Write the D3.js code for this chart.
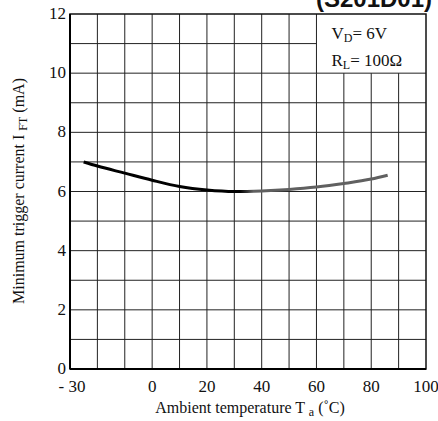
<!DOCTYPE html>
<html>
<head>
<meta charset="utf-8">
<script src="https://cdn.jsdelivr.net/npm/d3@7"></script>
<style>
  body { margin: 0; background: #fff; }
  svg { display: block; }
  text { font-family: "Times New Roman", "Liberation Serif", Tinos, serif; fill: #111; }
</style>
</head>
<body>
<div id="chart"></div>
<script>
// curve
let temps = [-25, -20, -10, 0, 10, 20, 30, 40, 50, 60, 70, 80, 86];
let ift = [7.0, 6.86, 6.62, 6.38, 6.17, 6.05, 6.0, 6.02, 6.07, 6.15, 6.27, 6.42, 6.55];

let xTicks = [-30, 0, 20, 40, 60, 80, 100];
let xTickLabels = ['- 30', '0', '20', '40', '60', '80', '100'];
let yTicks = [0, 2, 4, 6, 8, 10, 12];

let title = '(S201D01)';
let xTitle = 'Ambient temperature T';
let yTitle = 'Minimum trigger current I';

var W = 438, H = 421;
var m = { left: 70, right: 12, top: 14, bottom: 52 };

var svg = d3.select('#chart').append('svg').attr('width', W).attr('height', H);

var x = d3.scaleLinear().domain([-30, 100]).range([m.left, W - m.right]);
var y = d3.scaleLinear().domain([0, 12]).range([H - m.bottom, m.top]);

// grid
var grid = svg.append('g').attr('class', 'grid');
grid.selectAll('line.v').data(d3.range(-20, 100, 10)).enter().append('line')
    .attr('x1', d => x(d)).attr('x2', d => x(d))
    .attr('y1', y(0)).attr('y2', d => d >= 60 ? y(10) : y(12))
    .attr('stroke', '#222').attr('stroke-width', 1);
grid.selectAll('line.h').data(d3.range(1, 12)).enter().append('line')
    .attr('x1', x(-30)).attr('x2', d => d >= 10 ? x(60) : x(100))
    .attr('y1', d => y(d)).attr('y2', d => y(d))
    .attr('stroke', '#222').attr('stroke-width', 1);

// legend box edges
grid.append('line').attr('x1', x(60)).attr('x2', x(60)).attr('y1', y(12)).attr('y2', y(10))
    .attr('stroke', '#222').attr('stroke-width', 1);
grid.append('line').attr('x1', x(60)).attr('x2', x(100)).attr('y1', y(10)).attr('y2', y(10))
    .attr('stroke', '#222').attr('stroke-width', 1);

// frame
svg.append('rect').attr('x', x(-30)).attr('y', y(12))
    .attr('width', x(100) - x(-30)).attr('height', y(0) - y(12))
    .attr('fill', 'none').attr('stroke', '#111').attr('stroke-width', 1.5);
svg.append('line').attr('x1', x(-30)).attr('x2', x(-30)).attr('y1', y(0)).attr('y2', y(12))
    .attr('stroke', '#000').attr('stroke-width', 2);
svg.append('line').attr('x1', x(-30)).attr('x2', x(100)).attr('y1', y(0)).attr('y2', y(0))
    .attr('stroke', '#000').attr('stroke-width', 2);

// curve: black on the left, grey on the right
var defs = svg.append('defs');
var grad = defs.append('linearGradient').attr('id', 'curveGrad')
    .attr('gradientUnits', 'userSpaceOnUse')
    .attr('x1', x(32)).attr('x2', x(37)).attr('y1', 0).attr('y2', 0);
grad.append('stop').attr('offset', '0%').attr('stop-color', '#000');
grad.append('stop').attr('offset', '100%').attr('stop-color', '#606060');

var pts = temps.map((t, i) => [t, ift[i]]);
var line = d3.line().x(d => x(d[0])).y(d => y(d[1])).curve(d3.curveMonotoneX);
svg.append('path').datum(pts).attr('d', line)
    .attr('fill', 'none').attr('stroke', 'url(#curveGrad)').attr('stroke-width', 3);

// tick labels
svg.selectAll('text.ytick').data(yTicks).enter().append('text')
    .attr('x', x(-30) - 4).attr('y', d => y(d) + 5)
    .attr('text-anchor', 'end').attr('font-size', 17).text(d => d);
svg.selectAll('text.xtick').data(xTicks).enter().append('text')
    .attr('x', (d, i) => i === 0 ? x(d) + 2 : x(d)).attr('y', y(0) + 23)
    .attr('text-anchor', 'middle').attr('font-size', 17).text((d, i) => xTickLabels[i]);

// legend text
var leg = svg.append('text').attr('x', x(60) + 15).attr('y', y(12) + 25).attr('font-size', 17);
leg.append('tspan').text('V');
leg.append('tspan').attr('font-size', 12).attr('dy', 3).text('D');
leg.append('tspan').attr('dy', -3).text('= 6V');
var leg2 = svg.append('text').attr('x', x(60) + 15).attr('y', y(12) + 52).attr('font-size', 17);
leg2.append('tspan').text('R');
leg2.append('tspan').attr('font-size', 12).attr('dy', 3).text('L');
leg2.append('tspan').attr('dy', -3).text('= 100Ω');

// x title
var xt = svg.append('text').attr('x', 250).attr('y', 413).attr('text-anchor', 'middle').attr('font-size', 16);
xt.append('tspan').text(xTitle + ' ');
xt.append('tspan').attr('font-size', 12).attr('dy', 3).text('a');
xt.append('tspan').attr('dy', -3).text(' (˚C)');

// y title
var yt = svg.append('text').attr('transform', 'translate(24,191) rotate(-90)')
    .attr('text-anchor', 'middle').attr('font-size', 16);
yt.append('tspan').text(yTitle + ' ');
yt.append('tspan').attr('font-size', 12).attr('dy', 3).text('FT');
yt.append('tspan').attr('dy', -3).text(' (mA)');

// title, cut by the top edge as in the reference
svg.append('text').attr('x', 432).attr('y', 7).attr('text-anchor', 'end')
    .style('font-family', '"Liberation Sans", Arial, sans-serif')
    .attr('font-weight', 'bold').attr('font-size', 24).text(title);
</script>
</body>
</html>
